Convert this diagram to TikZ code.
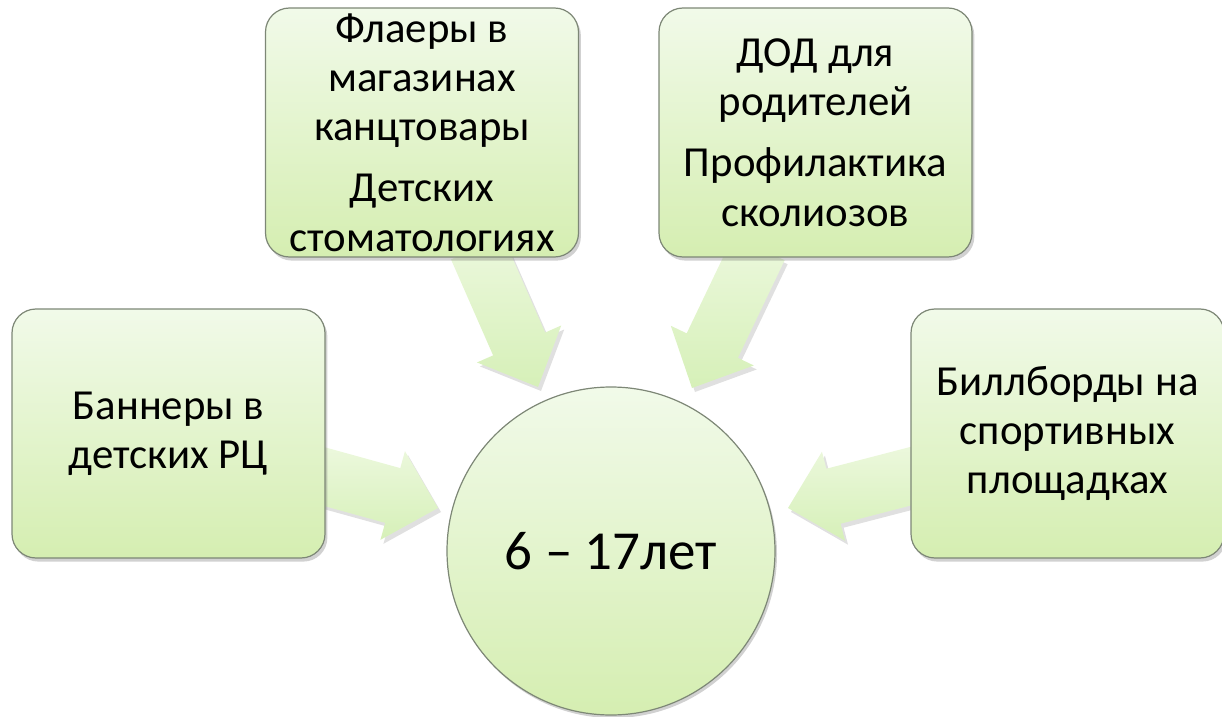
\documentclass[tikz,border=0pt]{standalone}
\usepackage{fontspec}
\setmainfont{Carlito}
\usetikzlibrary{calc,shadows}
\definecolor{boxtop}{RGB}{241,250,233}
\definecolor{boxbot}{RGB}{213,238,177}
\definecolor{arrtop}{RGB}{236,248,221}
\definecolor{arrbot}{RGB}{214,240,184}
\definecolor{edge}{RGB}{125,135,118}
\tikzset{
  gbox/.style={rectangle, draw=edge, line width=0.6pt, rounded corners=12pt,
    top color=boxtop, bottom color=boxbot, inner sep=0pt,
    minimum width=156.5pt, minimum height=124.5pt,
    align=center, font=\fontsize{21.4}{24.6}\selectfont,
    drop shadow={shadow xshift=1.2pt, shadow yshift=-1.8pt, opacity=0.3, fill=black!60}},
  gcircle/.style={circle, draw=edge, line width=0.6pt,
    top color=boxtop, bottom color=boxbot, minimum size=164pt, inner sep=0pt,
    font=\fontsize{27.5}{32}\selectfont,
    drop shadow={shadow xshift=1pt, shadow yshift=-1.5pt, opacity=0.3, fill=black!60}},
  barrow/.style={top color=arrtop, bottom color=arrbot, draw=none,
    drop shadow={shadow xshift=1.5pt, shadow yshift=-2pt, opacity=0.2, fill=black!60}}
}
\newcommand\blockarr[3]{%
  \coordinate (#3h) at ($(#2)!23.5pt!(#1)$);
  \path[barrow] ($(#1)!14.2pt!90:(#2)$) -- ($(#3h)!14.2pt!90:(#2)$)
     -- ($(#3h)!23pt!90:(#2)$) -- (#2) -- ($(#3h)!23pt!-90:(#2)$)
     -- ($(#3h)!14.2pt!-90:(#2)$) -- ($(#1)!14.2pt!-90:(#2)$) -- cycle;}
\begin{document}
\begin{tikzpicture}[x=0.5pt,y=-0.5pt]
\useasboundingbox (0,0) rectangle (1222,717);
% arrow anchor coordinates
\coordinate (sL) at (315,474);  \coordinate (tL) at (438,508);
\coordinate (sR) at (923,473);  \coordinate (tR) at (788,508);
\coordinate (sTL) at (477,248); \coordinate (tTL) at (538,387);
\coordinate (sTR) at (759,248); \coordinate (tTR) at (692,388);
\blockarr{sL}{tL}{aL}
\blockarr{sR}{tR}{aR}
\blockarr{sTL}{tTL}{aTL}
\blockarr{sTR}{tTR}{aTR}
% boxes
\node[gbox] (left) at (168.5,433.5) {Баннеры в\\детских РЦ};
\node[gbox] (right) at (1067.5,433.5) {Биллборды на\\спортивных\\площадках};
\node[gbox] (tl) at (422,132.5) {Флаеры в\\магазинах\\канцтовары\\[6pt]Детских\\стоматологиях};
\node[gbox] (tr) at (815.5,132.5) {ДОД для\\родителей\\[6pt]Профилактика\\сколиозов};
\node[gcircle] (c) at (611,551) {6 – 17лет};
\end{tikzpicture}
\end{document}
